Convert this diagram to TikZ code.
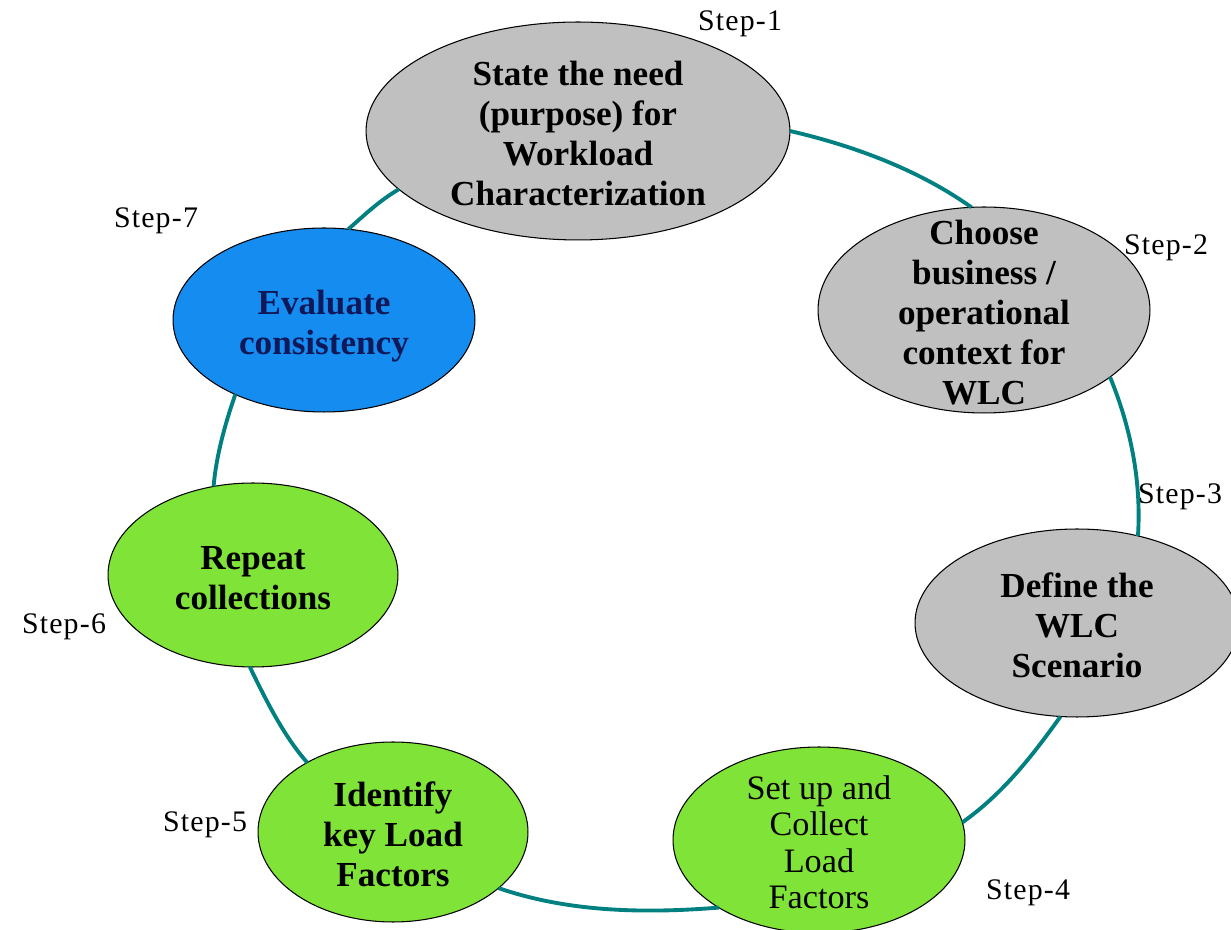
\documentclass[tikz,border=0pt]{standalone}
\usepackage{fontspec}
\setmainfont{Liberation Serif}
\newfontfamily\stepfont[LetterSpace=4]{Liberation Serif}
\usetikzlibrary{shapes.geometric}
\definecolor{boxgray}{RGB}{192,192,192}
\definecolor{boxgreen}{RGB}{128,228,56}
\definecolor{boxblue}{RGB}{20,140,240}
\definecolor{navytext}{RGB}{15,25,90}
\definecolor{linkteal}{RGB}{0,128,128}
\newcommand{\ctext}[1]{\smash{\raisebox{-9pt}{\begin{tabular}{@{}c@{}}#1\end{tabular}}}}
\tikzset{
  stepshape/.style={ellipse, draw=black, line width=0.6pt, inner sep=0pt, outer sep=0pt},
  graynode/.style={stepshape, fill=boxgray, font=\fontsize{20}{22.7}\selectfont\bfseries},
  greennode/.style={stepshape, fill=boxgreen, font=\fontsize{20}{22.7}\selectfont\bfseries},
  greenplain/.style={stepshape, fill=boxgreen, font=\fontsize{19.5}{20.8}\selectfont},
  bluenode/.style={stepshape, fill=boxblue, text=navytext, font=\fontsize{20}{22.7}\selectfont\bfseries},
  steplabel/.style={font=\stepfont\fontsize{17}{20}\selectfont, inner sep=0pt},
  link/.style={draw=linkteal, line width=2.2pt},
}
\begin{document}
\begin{tikzpicture}[x=0.02cm, y=0.02cm]
\useasboundingbox (0,0) rectangle (1231,930);
\fill[white] (0,0) rectangle (1231,930);

\node[graynode, minimum width=8.48cm, minimum height=4.36cm] (n1) at (578,799)
  {\ctext{State the need\\(purpose) for\\Workload\\Characterization}};
\node[graynode, minimum width=6.64cm, minimum height=4.12cm] (n2) at (984,620)
  {\ctext{Choose\\business /\\operational\\context for\\WLC}};
\node[graynode, minimum width=6.48cm, minimum height=3.76cm] (n3) at (1077,307)
  {\ctext{Define the\\WLC\\Scenario}};
\node[greenplain, minimum width=5.84cm, minimum height=3.72cm] (n4) at (819,90)
  {\ctext{Set up and\\Collect\\Load\\Factors}};
\node[greennode, minimum width=5.4cm, minimum height=3.6cm] (n5) at (393,98)
  {\ctext{Identify\\key Load\\Factors}};
\node[greennode, minimum width=5.8cm, minimum height=3.68cm] (n6) at (253,355)
  {\ctext{Repeat\\collections}};
\node[bluenode, minimum width=6.04cm, minimum height=3.68cm] (n7) at (324,610)
  {\ctext{Evaluate\\consistency}};

\node[steplabel] (s1) at (740,906) {Step-1};
\node[steplabel] (s2) at (1166,682) {Step-2};
\node[steplabel] (s3) at (1180,433) {Step-3};
\node[steplabel] (s4) at (1028,37) {Step-4};
\node[steplabel] (s5) at (205,105) {Step-5};
\node[steplabel] (s6) at (64,303) {Step-6};
\node[steplabel] (s7) at (156,709) {Step-7};

\draw[link] (n1.0) .. controls +(65,-15) and +(-52,37) .. (n2.97.6);
\draw[link] (n2.-28) .. controls +(21,-51) and +(3.5,54) .. (n3.55.7);
\draw[link] (n3.260.8) .. controls +(-28,-39) and +(41,29) .. (n4.7);
\draw[link] (n4.214.5) .. controls +(-75,-6) and +(70,-24) .. (n5.-28.3);
\draw[link] (n5.141.3) .. controls +(-24,27) and +(15.5,-31.6) .. (n6.268.1);
\draw[link] (n6.114) .. controls +(2.4,29.8) and +(-10,-28.6) .. (n7.220.2);
\draw[link] (n7.75.7) .. controls +(17,15) and +(-20,-12) .. (n1.198.6);
\end{tikzpicture}
\end{document}
